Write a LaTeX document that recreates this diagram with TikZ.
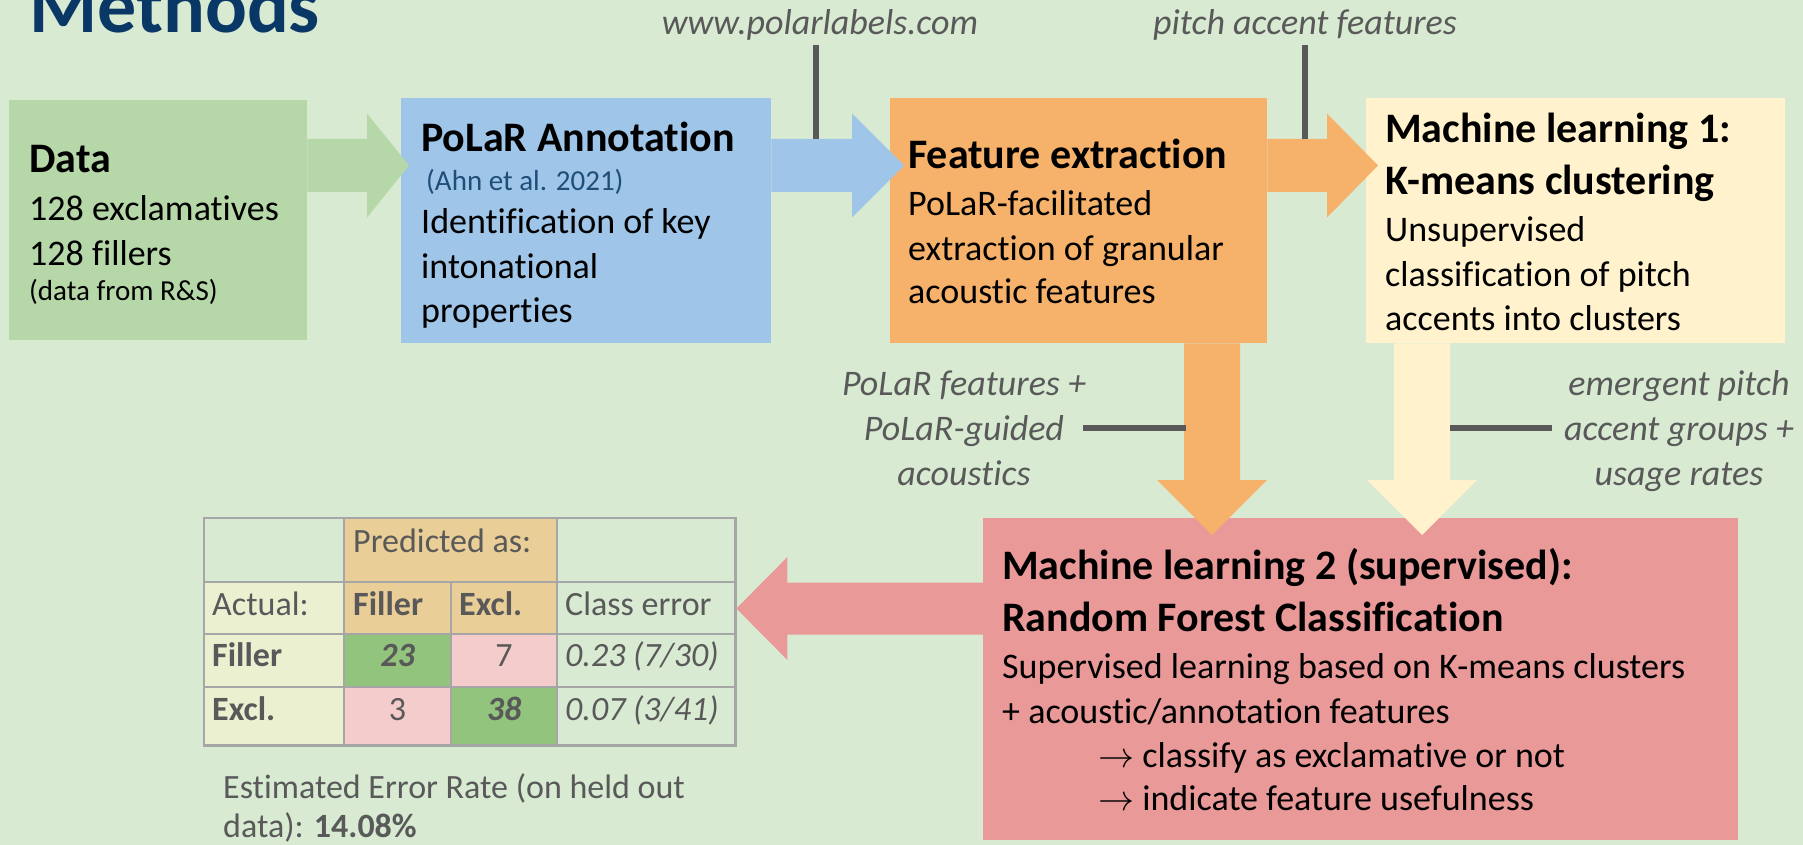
\RequirePackage{fix-cm}
\documentclass[tikz,border=0pt]{standalone}
\usepackage{fontspec}
\setmainfont{Carlito}[Ligatures={NoCommon}]
\usetikzlibrary{calc}
\definecolor{bgc}{RGB}{217,234,211}
\definecolor{cData}{RGB}{182,215,168}
\definecolor{cBlue}{RGB}{159,197,232}
\definecolor{cOrange}{RGB}{246,178,107}
\definecolor{cYellow}{RGB}{255,242,204}
\definecolor{cRed}{RGB}{234,153,153}
\definecolor{cTan}{RGB}{233,206,152}
\definecolor{cCellY}{RGB}{235,240,209}
\definecolor{cCellG}{RGB}{147,196,125}
\definecolor{cCellP}{RGB}{244,204,204}
\definecolor{gry}{RGB}{89,89,89}
\definecolor{gridc}{RGB}{166,166,166}
\definecolor{titleblue}{RGB}{10,56,102}
\definecolor{refblue}{RGB}{31,78,121}
% #1 colour, #2 start, #3 tip, #4 head length
\newcommand{\blkRight}[4]{\fill[#1] let \p1=(#2), \p2=(#3) in (\x1,\y1+26.5pt) -- (\x2-#4pt,\y1+26.5pt) -- (\x2-#4pt,\y1+52pt) -- (\x2,\y1) -- (\x2-#4pt,\y1-52pt) -- (\x2-#4pt,\y1-26.5pt) -- (\x1,\y1-26.5pt) -- cycle;}
\newcommand{\blkLeft}[3]{\fill[#1] let \p1=(#2), \p2=(#3) in (\x1,\y1+26pt) -- (\x2+51pt,\y1+26pt) -- (\x2+51pt,\y1+51.5pt) -- (\x2,\y1) -- (\x2+51pt,\y1-51.5pt) -- (\x2+51pt,\y1-26pt) -- (\x1,\y1-26pt) -- cycle;}
\newcommand{\blkDown}[3]{\fill[#1] let \p1=(#2), \p2=(#3) in (\x1-28pt,\y1) -- (\x1-28pt,\y2+55pt) -- (\x1-55pt,\y2+55pt) -- (\x1,\y2) -- (\x1+55pt,\y2+55pt) -- (\x1+28pt,\y2+55pt) -- (\x1+28pt,\y1) -- cycle;}
\begin{document}
\begin{tikzpicture}[x=1pt,y=-1pt,
  blk/.style={rectangle, inner sep=0, draw=none, anchor=north west},
  tb/.style={inner sep=0, anchor=base west, font=\fontsize{36}{43}\selectfont},
  th/.style={inner sep=0, anchor=base west, font=\fontsize{42}{50}\selectfont\bfseries},
  tsm/.style={inner sep=0, anchor=base west, font=\fontsize{29}{35}\selectfont},
  lab/.style={inner sep=0, anchor=base, text=gry, font=\fontsize{36}{43}\selectfont\itshape},
  tt/.style={inner sep=0, anchor=base west, text=gry, font=\fontsize{34}{41}\selectfont},
  ttc/.style={tt, anchor=base},
  gline/.style={draw=gry, line width=6pt},
  grid/.style={draw=gridc, line width=2.5pt}]
\useasboundingbox (0,0) rectangle (1803,845);
\clip (0,0) rectangle (1803,845);
\fill[bgc] (0,0) rectangle (1803,845);

% title
\node[inner sep=0, anchor=base west, text=titleblue, font=\fontsize{78}{90}\selectfont\bfseries] (title) at (29,33) {Methods};

% boxes
\node[blk, fill=cData, minimum width=298, minimum height=240] (data) at (9,100) {};
\node[blk, fill=cBlue, minimum width=370, minimum height=245] (polar) at (401,98) {};
\node[blk, fill=cOrange, minimum width=377, minimum height=245] (feat) at (890,98) {};
\node[blk, fill=cYellow, minimum width=419, minimum height=245] (ml1) at (1366,98) {};
\node[blk, fill=cRed, minimum width=755, minimum height=322] (ml2) at (983,518) {};

% helper coordinates
\coordinate (row1) at (0,165.5);
\coordinate (row2) at (0,608.5);
\coordinate (colA) at (1212,0);
\coordinate (colB) at (1422,0);

% horizontal block arrows
\blkRight{cData}{data.east |- row1}{$(polar.west |- row1)+(8,0)$}{42}
\blkRight{cBlue}{polar.east |- row1}{$(feat.west |- row1)+(14,0)$}{52}
\blkRight{cOrange}{feat.east |- row1}{$(ml1.west |- row1)+(12,0)$}{51}
% vertical block arrows
\blkDown{cOrange}{feat.south -| colA}{$(ml2.north -| colA)+(0,17)$}
\blkDown{cYellow}{ml1.south -| colB}{$(ml2.north -| colB)+(0,17)$}

% table
\node[blk, minimum width=531, minimum height=227] (tbl) at (204,518) {};
\fill[cCellY] (204,582) rectangle (344,745);
\fill[cTan] (344,518) rectangle (557,634);
\fill[cCellG] (344,634) rectangle (451,687);
\fill[cCellP] (451,634) rectangle (557,687);
\fill[cCellP] (344,687) rectangle (451,745);
\fill[cCellG] (451,687) rectangle (557,745);
\draw[grid] (tbl.north west) rectangle (tbl.south east);
\draw[grid] (204,582) -- (735,582) (204,634) -- (735,634) (204,687) -- (735,687);
\draw[grid] (344,518) -- (344,745) (557,518) -- (557,745) (451,582) -- (451,745);

% pink arrow to table
\blkLeft{cRed}{ml2.west |- row2}{$(tbl.east |- row2)+(1,0)$}

% Data text
\node[th] (d1) at (29,173) {Data};
\node[tb] (d2) at (29,220) {128 exclamatives};
\node[tb] (d3) at (29,265) {128 fillers};
\node[tsm] (d4) at (29,300) {(data from R\&S)};

% PoLaR text
\node[th] (p1) at (421,152) {PoLaR Annotation};
\node[tsm, text=refblue] (p2) at (426,190) {(Ahn et al. 2021)};
\node[tb] (p3) at (421,233) {Identification of key};
\node[tb] (p4) at (421,278) {intonational};
\node[tb] (p5) at (421,322) {properties};

% Feature text
\node[th] (f1) at (908,168) {Feature extraction};
\node[tb] (f2) at (908,215) {PoLaR-facilitated};
\node[tb] (f3) at (908,260) {extraction of granular};
\node[tb] (f4) at (908,303) {acoustic features};

% ML1 text
\node[th] (m1) at (1385,143) {Machine learning 1:};
\node[th] (m2) at (1385,195) {K-means clustering};
\node[tb] (m3) at (1385,241) {Unsupervised};
\node[tb] (m4) at (1385,286) {classification of pitch};
\node[tb] (m5) at (1385,330) {accents into clusters};

% ML2 text
\node[th] (n1) at (1002,579) {Machine learning 2 (supervised):};
\node[th] (n2) at (1002,631) {Random Forest Classification};
\node[tb] (n3) at (1002,678) {Supervised learning based on K-means clusters};
\node[tb] (n4) at (1002,723) {+ acoustic/annotation features};
\node[tb] (n5) at (1098,767) {$\rightarrow$ classify as exclamative or not};
\node[tb] (n6) at (1098,810) {$\rightarrow$ indicate feature usefulness};

% labels
\node[lab] (lw) at (820,35) {www.polarlabels.com};
\node[lab] (lp) at (1305,35) {pitch accent features};
\node[lab] (ll1) at (964,395) {PoLaR features +};
\node[lab] (ll2) at (964,440) {PoLaR-guided};
\node[lab] (ll3) at (964,485) {acoustics};
\node[lab] (lr1) at (1679,395) {emergent pitch};
\node[lab] (lr2) at (1679,440) {accent groups +};
\node[lab] (lr3) at (1679,485) {usage rates};

% gray connectors
\coordinate (wTop) at (816,45);
\coordinate (wEnd) at (816,139);
\coordinate (pTop) at (1305,45);
\coordinate (pEnd) at (1305,139);
\coordinate (lStart) at (1083,428);
\coordinate (lEnd) at (1186,428);
\coordinate (rStart) at (1450,428);
\coordinate (rEnd) at (1552,428);
\draw[gline] (wTop) -- (wEnd);
\draw[gline] (pTop) -- (pEnd);
\draw[gline] (lStart) -- (lEnd);
\draw[gline] (rStart) -- (rEnd);

% table text
\node[tt] (t1) at (353,552) {Predicted as:};
\node[tt] (t2) at (212,615) {Actual:};
\node[tt, font=\fontsize{34}{41}\selectfont\bfseries] (t3) at (353,615) {Filler};
\node[tt, font=\fontsize{34}{41}\selectfont\bfseries] (t4) at (459,615) {Excl.};
\node[tt] (t5) at (565,615) {Class error};
\node[tt, font=\fontsize{34}{41}\selectfont\bfseries] (t6) at (212,666) {Filler};
\node[ttc, font=\fontsize{34}{41}\selectfont\bfseries\itshape] (t7) at (397.5,666) {23};
\node[ttc] (t8) at (504,666) {7};
\node[tt, font=\fontsize{34}{41}\selectfont\itshape] (t9) at (565,666) {0.23 (7/30)};
\node[tt, font=\fontsize{34}{41}\selectfont\bfseries] (t10) at (212,720) {Excl.};
\node[ttc] (t11) at (397.5,720) {3};
\node[ttc, font=\fontsize{34}{41}\selectfont\bfseries\itshape] (t12) at (504,720) {38};
\node[tt, font=\fontsize{34}{41}\selectfont\itshape] (t13) at (565,720) {0.07 (3/41)};

\node[tt] (e1) at (223,798) {Estimated Error Rate (on held out};
\node[tt] (e2) at (223,837) {data): \textbf{14.08\%}};
\end{tikzpicture}
\end{document}
